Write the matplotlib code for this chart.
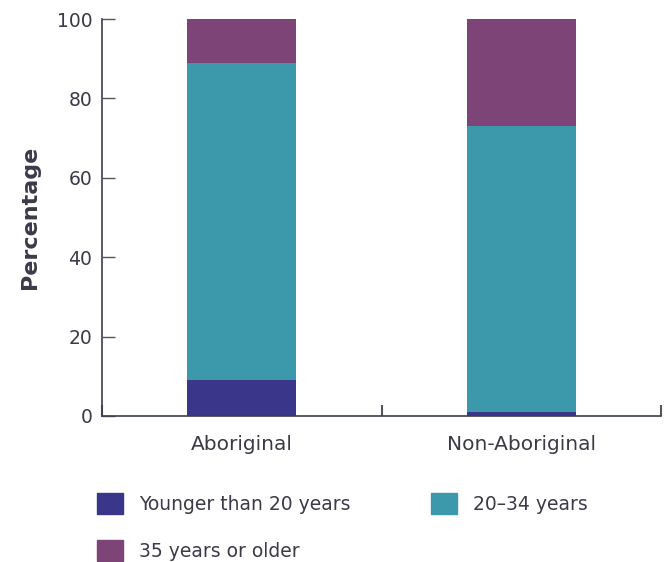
import matplotlib.pyplot as plt
from matplotlib.patches import Patch

plt.rcParams['font.family'] = ['DejaVu Sans']

# data (percent)
groups = ['Aboriginal', 'Non-Aboriginal']
younger = [9, 1]
mid = [80, 72]
older = [11, 27]
series_names = ['Younger than 20 years', '20\u201334 years', '35 years or older']
colors = ['#3a368a', '#3c98ab', '#7d4478']
text_col = '#3a3a48'

fig = plt.figure(figsize=(6.67, 5.62), dpi=100)
ax = fig.add_axes([0.153, 0.26, 0.838, 0.706])

x = range(len(groups))
w = 0.39
ax.bar(x, younger, w, color=colors[0])
ax.bar(x, mid, w, bottom=younger, color=colors[1])
bottom2 = [a + b for a, b in zip(younger, mid)]
ax.bar(x, older, w, bottom=bottom2, color=colors[2])

ax.set_xlim(-0.5, 1.5)
ax.set_ylim(0, 100)
ax.set_yticks([0, 20, 40, 60, 80, 100])
ax.set_xticks(list(x))
ax.set_xticklabels(groups)
# category boundary ticks on x axis
ax.set_xticks([-0.5, 0.5, 1.5], minor=True)
ax.tick_params(axis='x', which='major', length=0, pad=14, labelsize=14.5, labelcolor=text_col)
ax.tick_params(axis='x', which='minor', direction='in', length=8, color='#55555f', width=1.5)
ax.tick_params(axis='y', direction='in', length=9, color='#55555f', width=1, pad=7,
               labelsize=13.5, labelcolor=text_col)

for s in ['top', 'right']:
    ax.spines[s].set_visible(False)
for s in ['left', 'bottom']:
    ax.spines[s].set_color('#3d3d4d')
    ax.spines[s].set_linewidth(1.2)

ax.set_ylabel('Percentage', fontsize=16, fontweight='bold', color=text_col, labelpad=12)

# column-wise fill: col 1 = younger, 35+ ; col 2 = 20-34
order = [0, 2, 1]
handles = [Patch(color=colors[i]) for i in order]
labels = [series_names[i] for i in order]
fig.legend(handles, labels, loc='upper left', bbox_to_anchor=(0.145, 0.123),
           ncol=2, frameon=False, fontsize=13.5, handlelength=1.39, handleheight=1.39,
           handletextpad=0.85, columnspacing=4.3, labelspacing=1.35, labelcolor=text_col,
           borderaxespad=0, borderpad=0)

fig.savefig('out.png', dpi=100)
